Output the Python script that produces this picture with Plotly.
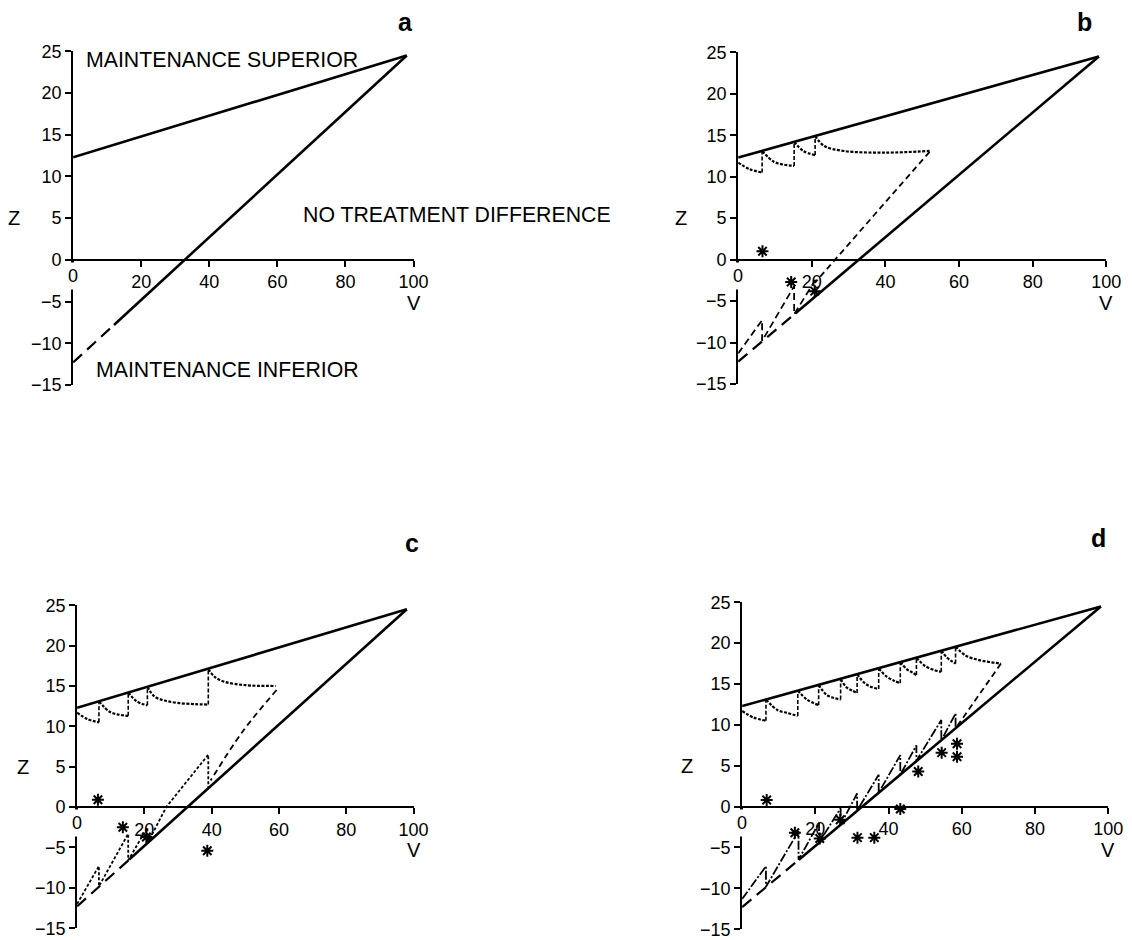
import plotly.graph_objects as go

W, H = 1132, 940
FONT = "Liberation Sans, Arial, Helvetica, sans-serif"

# ---------------- data ----------------
BOUND_V = [0, 98]
UPPER_Z = [12.3, 24.5]

# lower boundary (dashed start, then solid)
A_LOW_DASH_V = [0, 12]
A_LOW_DASH_Z = [-12.3, -7.8]
A_LOW_SOLID_V = [12, 98]
A_LOW_SOLID_Z = [-7.8, 24.5]
BCD_LOW_DASH_V = [0, 15.5]
BCD_LOW_DASH_Z = [-12.3, -6.5]
BCD_LOW_SOLID_V = [15.5, 98]
BCD_LOW_SOLID_Z = [-6.5, 24.5]

# panel b
B_UP_V = [0, 3.1, 6.5, None, 6.5, 9.7, 12.4, 15.2, None, 15.2, 17.7, 20.9, None,
          20.9, 23.4, 28.7, 39.8, 52]
B_UP_Z = [11.7, 10.9, 10.5, None, 13.1, 11.8, 11.45, 11.3, None, 14.2, 13.1, 12.6, None,
          14.9, 13.7, 13.1, 12.9, 13.1]
B_LOW_V = [0, 6.5, 6.5, 15.2, 15.2, 21.3]
B_LOW_Z = [-11.3, -7.3, -9.8, -3.2, -6.6, -2.2]
B_RET_V = [52, 20.8]
B_RET_Z = [13.0, -2.8]
B_STAR_V = [6.6, 14.4, 20.8]
B_STAR_Z = [1.0, -2.7, -3.8]

# panel c
C_UP_V = [0, 3.1, 6.5, None, 6.5, 9.7, 12.4, 15.2, None, 15.2, 17.7, 20.9, None,
          20.9, 23, 26, 30, 35, 39, None, 39, 41, 44, 50, 59]
C_UP_Z = [11.7, 10.9, 10.5, None, 13.1, 11.8, 11.45, 11.3, None, 14.2, 13.1, 12.6, None,
          14.9, 13.7, 13.2, 12.9, 12.75, 12.7, None, 17.1, 16.1, 15.5, 15.1, 15.0]
C_LOW_V = [0, 6.5, 6.5, 15.2, 15.2, 20.9, 20.9, 26.5, 39, 39]
C_LOW_Z = [-12.0, -7.3, -9.8, -3.3, -6.6, -2.5, -4.5, 0, 6.5, 2.4]
C_RET_V = [59.3, 49.1, 39.7]
C_RET_Z = [14.5, 9.3, 3.3]
C_STAR_V = [6.2, 13.6, 20.6, 38.7]
C_STAR_Z = [0.9, -2.5, -3.7, -5.4]

# panel d
D_UP_V = [0, 3.1, 6.5, None, 6.5, 9.7, 12.4, 15.2, None, 15.2, 17.7, 20.9, None,
          20.9, 23, 25, 26.9, None, 26.9, 28.5, 30, 31.4, None, 31.4, 33.5, 35.5, 37.3, None,
          37.3, 39.5, 41.5, 43.2, None, 43.2, 45, 46.5, 47.6, None, 47.6, 50, 52.5, 54.4, None,
          54.4, 55.8, 57.2, 58.3, None, 58.3, 61, 65, 70.7]
D_UP_Z = [11.7, 10.9, 10.5, None, 13.1, 11.8, 11.45, 11.1, None, 14.2, 13.1, 12.4, None,
          14.9, 13.7, 13.3, 13.1, None, 15.6, 14.6, 14.2, 13.9, None, 16.2, 15.1, 14.6, 14.4, None,
          16.9, 15.9, 15.4, 15.1, None, 17.7, 16.8, 16.4, 16.1, None, 18.2, 17.2, 16.7, 16.5, None,
          19.1, 18.3, 17.8, 17.5, None, 19.6, 18.5, 17.9, 17.5]
D_LOW_V = [0, 6.5, 6.5, 15.4, 15.4, 21, 21, 26.9, 26.9, 31.4, 31.4, 37.3, 37.3, 43.2, 43.2,
           47.6, 47.6, 54.4, 54.4, 58.3, 58.3]
D_LOW_Z = [-11.3, -7.3, -9.8, -3.0, -6.5, -2.0, -4.4, -0.2, -2.2, 1.6, -0.5, 3.9, 1.7, 6.3, 3.9,
           7.5, 5.6, 10.6, 8.1, 11.4, 9.6]
D_RET_V = [70.7, 58.5]
D_RET_Z = [17.5, 9.7]
D_STAR_V = [6.7, 14.4, 21.2, 26.8, 31.5, 36.1, 43.2, 48.1, 54.5, 58.7, 58.7]
D_STAR_Z = [0.8, -3.2, -3.9, -1.6, -3.8, -3.8, -0.3, 4.3, 6.6, 7.7, 6.1]

X_TICKS = [0, 20, 40, 60, 80, 100]
X_TICKTEXT = ["", "20", "40", "60", "80", "100"]
Y_TICKS = [-15, -10, -5, 0, 5, 10, 15, 20, 25]
Y_TICKTEXT = ["\u221215", "\u221210", "\u22125", "0", "5", "10", "15", "20", "25"]

# ---------------- layout geometry (pixels within the figure) ----------------
PANELS = {
    "a": dict(x0=66, x100=411, y25=34, ym15=375, lab=(403, 4), zx=6, lowdash=None),
    "b": dict(x0=740, x100=1113, y25=35, ym15=374, lab=(1091, 4), zx=682, lowdash="7px,4px"),
    "c": dict(x0=70, x100=411, y25=600, ym15=930, lab=(409, 536), zx=15, lowdash="3px,2px"),
    "d": dict(x0=744, x100=1115, y25=597, ym15=931, lab=(1105, 531), zx=688, lowdash="9px,2px,2px,2px"),
}

fig = go.Figure()


def jumps(vs, zs):
    """vertical connectors between consecutive decay segments"""
    segs, cur = [], []
    for v, z in zip(vs, zs):
        if v is None:
            segs.append(cur)
            cur = []
        else:
            cur.append((v, z))
    segs.append(cur)
    jx, jy = [], []
    for s1, s2 in zip(segs[:-1], segs[1:]):
        jx += [s1[-1][0], s2[0][0], None]
        jy += [s1[-1][1], s2[0][1], None]
    return jx, jy


def add(xa, ya, x, y, dash="solid", width=2.4, shape="linear"):
    fig.add_trace(go.Scatter(x=x, y=y, mode="lines", xaxis=xa, yaxis=ya,
                             line=dict(color="black", width=width, dash=dash, shape=shape),
                             showlegend=False, hoverinfo="skip", connectgaps=False))


def stars(xa, ya, x, y):
    fig.add_trace(go.Scatter(x=x, y=y, mode="markers", xaxis=xa, yaxis=ya,
                             marker=dict(symbol="asterisk-open", size=10, color="black",
                                         line=dict(color="black", width=2)),
                             showlegend=False, hoverinfo="skip"))


panel_data = {
    "a": None,
    "b": (B_UP_V, B_UP_Z, B_LOW_V, B_LOW_Z, B_RET_V, B_RET_Z, B_STAR_V, B_STAR_Z),
    "c": (C_UP_V, C_UP_Z, C_LOW_V, C_LOW_Z, C_RET_V, C_RET_Z, C_STAR_V, C_STAR_Z),
    "d": (D_UP_V, D_UP_Z, D_LOW_V, D_LOW_Z, D_RET_V, D_RET_Z, D_STAR_V, D_STAR_Z),
}

annotations = []
layout_axes = {}
for i, (name, g) in enumerate(PANELS.items(), start=1):
    xa = "x" if i == 1 else f"x{i}"
    ya = "y" if i == 1 else f"y{i}"
    xdom = [g["x0"] / W, g["x100"] / W]
    ydom = [1 - g["ym15"] / H, 1 - g["y25"] / H]
    yzero_px = g["y25"] + 25 * (g["ym15"] - g["y25"]) / 40
    yzero = 1 - yzero_px / H

    layout_axes["xaxis" if i == 1 else f"xaxis{i}"] = dict(
        domain=xdom, range=[0, 100], anchor="free", position=yzero,
        tickvals=X_TICKS, ticktext=X_TICKTEXT, ticks="outside", ticklen=6, tickwidth=1.6,
        tickcolor="black", showline=True, linecolor="black", linewidth=2,
        showgrid=False, zeroline=False, tickfont=dict(size=18, color="black", family=FONT),
        fixedrange=True)
    layout_axes["yaxis" if i == 1 else f"yaxis{i}"] = dict(
        domain=ydom, range=[-15, 25], anchor=xa,
        tickvals=Y_TICKS, ticktext=Y_TICKTEXT, ticks="outside", ticklen=6, tickwidth=1.6,
        tickcolor="black", showline=True, linecolor="black", linewidth=2,
        showgrid=False, zeroline=False, tickfont=dict(size=18, color="black", family=FONT),
        fixedrange=True)

    # boundaries
    add(xa, ya, BOUND_V, UPPER_Z, width=2.6)
    if name == "a":
        add(xa, ya, A_LOW_DASH_V, A_LOW_DASH_Z, dash="12px,7px", width=2.2)
        add(xa, ya, A_LOW_SOLID_V, A_LOW_SOLID_Z, width=2.6)
    else:
        add(xa, ya, BCD_LOW_DASH_V, BCD_LOW_DASH_Z, dash="12px,7px", width=2.2)
        add(xa, ya, BCD_LOW_SOLID_V, BCD_LOW_SOLID_Z, width=2.6)
        up_v, up_z, lo_v, lo_z, rv, rz, sv, sz = panel_data[name]
        add(xa, ya, up_v, up_z, dash="3px,1.5px", width=2.2, shape="spline")
        jx, jy = jumps(up_v, up_z)
        add(xa, ya, jx, jy, dash="4px,2px", width=1.6)
        add(xa, ya, lo_v, lo_z, dash=g["lowdash"], width=1.8)
        add(xa, ya, rv, rz, dash="6px,4px", width=1.8, shape="spline")
        stars(xa, ya, sv, sz)

    # x-axis "0" label breaking the vertical axis line
    annotations.append(dict(x=0, y=0, xref=xa, yref=ya, text="0", showarrow=False,
                            xanchor="center", yanchor="top", yshift=-2, bgcolor="white",
                            borderpad=3, font=dict(size=18, color="black", family=FONT)))
    # axis titles
    annotations.append(dict(x=g["zx"] / W, y=5, xref="paper", yref=ya, text="Z",
                            showarrow=False, xanchor="center", yanchor="middle",
                            font=dict(size=20, color="black", family=FONT)))
    annotations.append(dict(x=100, y=0, xref=xa, yref=ya, text="V", showarrow=False,
                            xanchor="center", yanchor="top", yshift=-30,
                            font=dict(size=20, color="black", family=FONT)))
    # panel letter
    lx, ly = g["lab"]
    annotations.append(dict(x=lx / W, y=1 - ly / H, xref="paper", yref="paper",
                            text=f"<b>{name}</b>", showarrow=False, xanchor="center",
                            yanchor="middle", font=dict(size=25, color="black", family=FONT)))

# region labels in panel a
for txt, px, py in [("MAINTENANCE SUPERIOR", 77, 43),
                    ("NO TREATMENT DIFFERENCE", 297, 201),
                    ("MAINTENANCE INFERIOR", 87, 360)]:
    annotations.append(dict(x=px / W, y=1 - py / H, xref="paper", yref="paper", text=txt,
                            showarrow=False, xanchor="left", yanchor="middle",
                            font=dict(size=21.3, color="black", family=FONT)))

fig.update_layout(width=W, height=H, margin=dict(l=0, r=0, t=0, b=0),
                  paper_bgcolor="white", plot_bgcolor="white", showlegend=False,
                  annotations=annotations, **layout_axes)

fig.write_html("out.html", config={"displayModeBar": False})
